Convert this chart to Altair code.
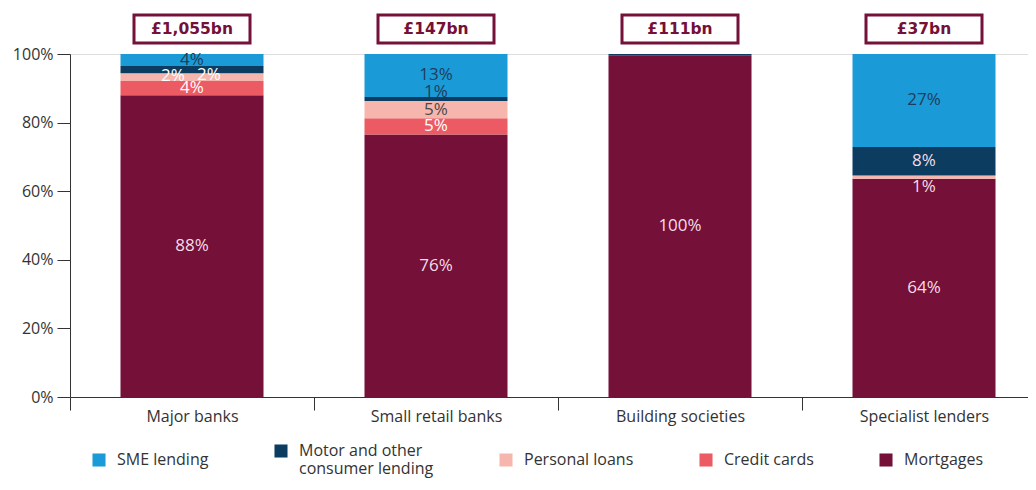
import altair as alt
import pandas as pd

categories = ["Major banks", "Small retail banks", "Building societies", "Specialist lenders"]
totals = ["£1,055bn", "£147bn", "£111bn", "£37bn"]
series = ["SME lending", "Motor and other consumer lending", "Personal loans", "Credit cards", "Mortgages"]
colors = ["#1a9bd7", "#0c3c60", "#f7b6ad", "#ec5a63", "#751038"]

# share of lending, % (per category, in series order)
sme = [3.5, 12.5, 0.0, 27.1]
motor = [2.1, 1.2, 0.4, 8.3]
personal = [2.3, 5.0, 0.0, 1.0]
credit = [4.1, 4.8, 0.0, 0.0]
mortgages = [88.0, 76.5, 99.6, 63.6]

# displayed labels ("" = none)
lab_sme = ["4%", "13%", "", "27%"]
lab_motor = ["2%", "1%", "", "8%"]
lab_personal = ["2%", "5%", "", "1%"]
lab_credit = ["4%", "5%", "", ""]
lab_mort = ["88%", "76%", "100%", "64%"]

vals = [sme, motor, personal, credit, mortgages]
labs = [lab_sme, lab_motor, lab_personal, lab_credit, lab_mort]

rows = []
for ci, c in enumerate(categories):
    base = 0.0
    for si in reversed(range(len(series))):
        v = vals[si][ci]
        rows.append(dict(category=c, series=series[si], value=v, order=len(series) - si,
                         label=labs[si][ci], mid=base + v / 2))
        base += v
df = pd.DataFrame(rows)

light = "#f4dde6"
white = "#ffffff"
navy = "#1f3b5a"
grey = "#4a4a4a"
def style(r):
    key = (r["category"], r["series"])
    dx, dy, col = 0, 0, white
    if r["series"] == "SME lending":
        col = navy
    elif r["series"] == "Mortgages":
        col = light
    elif r["series"] == "Personal loans":
        col = grey
    elif r["series"].startswith("Motor"):
        col = light
    if key == ("Major banks", "Personal loans"):
        dx, dy, col = -19, -1, white
    if key == ("Major banks", "Motor and other consumer lending"):
        dx, dy, col = 17, 5, white
    if key == ("Small retail banks", "Motor and other consumer lending"):
        dy, col = -7, navy
    if key == ("Specialist lenders", "Personal loans"):
        dy, col = 10, light
    return pd.Series(dict(dx=dx, dy=dy, tcol=col))
df = pd.concat([df, df.apply(style, axis=1)], axis=1)

FONT = "Open Sans"
W = 958          # visible plot width
BAND_SPAN = 976  # 4 category steps of 244px (last edge runs past the page)

x_enc = alt.X("category:N", sort=categories, title=None,
              scale=alt.Scale(paddingInner=0, paddingOuter=0, range=[0, BAND_SPAN]),
              axis=alt.Axis(tickBand="extent", tickSize=13, labelAngle=0, labelFontSize=16,
                            labelColor="#333333", labelPadding=-2, domainColor="#333333",
                            tickColor="#333333", labelFont=FONT))

legend_label = ("datum.label == 'Motor and other consumer lending' ? "
                "['Motor and other', 'consumer lending'] : datum.label")

bars = alt.Chart(df).mark_bar(size=143).encode(
    x=x_enc,
    y=alt.Y("value:Q", stack="zero", scale=alt.Scale(domain=[0, 100], nice=False),
            title=None,
            axis=alt.Axis(values=[0, 20, 40, 60, 80, 100], labelExpr="datum.value + '%'",
                          tickSize=13, grid=False, labelFontSize=16, labelColor="#333333",
                          domainColor="#333333", tickColor="#333333", labelPadding=4,
                          labelFont=FONT)),
    color=alt.Color("series:N", sort=series, scale=alt.Scale(domain=series, range=colors),
                    legend=alt.Legend(title=None, orient="none", legendX=21, legendY=389,
                                      direction="horizontal", columns=5, columnPadding=64,
                                      symbolType="square", symbolSize=170, symbolStrokeWidth=0,
                                      labelFontSize=16, labelColor="#333333", labelFont=FONT,
                                      labelLimit=300, labelOffset=10,
                                      labelExpr=legend_label)),
    order=alt.Order("order:Q"),
)

texts = []
for (dxv, dyv), g in df[df["label"] != ""].groupby(["dx", "dy"]):
    texts.append(alt.Chart(g).mark_text(fontSize=17, font=FONT, dx=int(dxv), dy=int(dyv)).encode(
        x=alt.X("category:N", sort=categories),
        y=alt.Y("mid:Q"),
        text="label:N",
        color=alt.Color("tcol:N", scale=None),
    ))

tot_df = pd.DataFrame(dict(category=categories, total=totals))
boxes = alt.Chart(tot_df).mark_bar(size=116, fill="white", stroke="#751038", strokeWidth=3).encode(
    x=alt.X("category:N", sort=categories),
    y=alt.value(-39), y2=alt.value(-11),
)
box_text = alt.Chart(tot_df).mark_text(fontSize=15.5, fontWeight="bold", color="#751038",
                                       font="DejaVu Sans").encode(
    x=alt.X("category:N", sort=categories),
    y=alt.value(-25),
    text="total:N",
)

chart = alt.layer(bars, *texts, boxes, box_text).properties(
    width=W, height=343,
    autosize=alt.AutoSizeParams(type="none"),
    padding={"left": 62, "top": 46, "right": 0, "bottom": 90},
).configure_view(stroke=None).configure(font=FONT)

chart.save("out.html", embed_options={"renderer": "svg", "actions": False})
